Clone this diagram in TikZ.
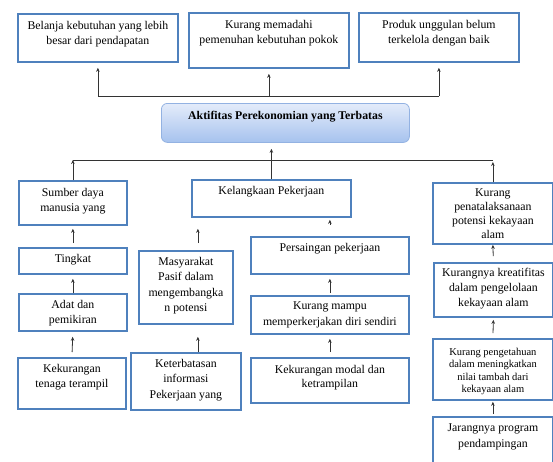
\documentclass[tikz,border=0pt]{standalone}
\usepackage{fontspec}
\setmainfont{Liberation Serif}
\usepackage{tikz}
\usetikzlibrary{calc}
\usetikzlibrary{positioning}
\usetikzlibrary{arrows.meta}

\definecolor{garisbiru}{HTML}{4F81BD}
\definecolor{panahabu}{HTML}{333333}
\definecolor{birumuda}{HTML}{E4ECFA}
\definecolor{birutua}{HTML}{A6C2EE}
\definecolor{tepibiru}{HTML}{93B2E2}

\tikzset{
  kotak/.style={draw=garisbiru, line width=1.8pt, anchor=north west, inner sep=0pt},
  isi/.style={anchor=north, align=center, inner xsep=0pt, inner ysep=8pt, font=\fontsize{11.8}{15.5}\selectfont},
  panah/.style={draw=panahabu, line width=0.8pt, -{Stealth[length=4pt,width=3.5pt]}},
  garis/.style={draw=panahabu, line width=0.8pt},
}

\begin{document}
\begin{tikzpicture}[x=1pt,y=-1pt]
      \useasboundingbox (0,0) rectangle (553,461);

      \node[kotak, minimum width=160pt, minimum height=48pt, label={[isi]north:Belanja kebutuhan yang lebih\\besar dari pendapatan}] (belanja) at (17,13) {};
      \node[kotak, minimum width=160pt, minimum height=55pt, label={[isi]north:Kurang memadahi\\pemenuhan kebutuhan pokok}] (memadahi) at (188,12) {};
      \node[kotak, minimum width=160pt, minimum height=49pt, label={[isi]north:Produk unggulan belum\\terkelola dengan baik}] (produk) at (358,12) {};

      \node[kotak, draw=tepibiru, line width=0.8pt, rounded corners=6pt, top color=birumuda, bottom color=birutua, minimum width=248pt, minimum height=39pt, label={[isi, font=\bfseries\fontsize{11.8}{15.5}\selectfont]north:Aktifitas Perekonomian yang Terbatas}] (aktifitas) at (161,103) {};

      \node[kotak, minimum width=108pt, minimum height=44pt, label={[isi]north:Sumber daya\\manusia yang}] (sumber) at (18,180) {};
      \node[kotak, minimum width=108pt, minimum height=26pt, label={[isi, inner ysep=7pt]north:Tingkat}] (tingkat) at (18,247) {};
      \node[kotak, minimum width=108pt, minimum height=37pt, label={[isi, inner ysep=7pt]north:Adat dan\\pemikiran}] (adat) at (18,293) {};
      \node[kotak, minimum width=108pt, minimum height=51pt, label={[isi, inner ysep=7pt]north:Kekurangan\\tenaga terampil}] (kekurangan) at (17,357) {};

      \node[kotak, minimum width=94pt, minimum height=73pt, label={[isi, inner ysep=7pt]north:Masyarakat\\Pasif dalam\\mengembangka\\n potensi}] (masyarakat) at (138,250) {};
      \node[kotak, minimum width=110pt, minimum height=57pt, label={[isi, inner ysep=7pt]north:Keterbatasan\\informasi\\Pekerjaan yang}] (keterbatasan) at (130,352) {};

      \node[kotak, minimum width=159pt, minimum height=37pt, label={[isi, inner ysep=7pt]north:Kelangkaan Pekerjaan}] (kelangkaan) at (191,179) {};
      \node[kotak, minimum width=158pt, minimum height=37pt, label={[isi, inner ysep=7pt]north:Persaingan pekerjaan}] (persaingan) at (250,236) {};
      \node[kotak, minimum width=158pt, minimum height=38pt, label={[isi, inner ysep=7pt]north:Kurang mampu\\memperkerjakan diri sendiri}] (mampu) at (250,295) {};
      \node[kotak, minimum width=158pt, minimum height=45pt, label={[isi, font=\fontsize{11.8}{14}\selectfont]north:Kekurangan modal dan\\ketrampilan}] (modal) at (250,357) {};

      \node[kotak, minimum width=120pt, minimum height=61pt, label={[isi, inner ysep=7pt, font=\fontsize{11.8}{13.8}\selectfont]north:Kurang\\penatalaksanaan\\potensi kekayaan\\alam}] (penatalaksanaan) at (432,182) {};
      \node[kotak, minimum width=119pt, minimum height=54pt, label={[isi, inner ysep=6pt, font=\fontsize{11.8}{15}\selectfont]north:Kurangnya kreatifitas\\dalam pengelolaan\\kekayaan alam}] (kreatifitas) at (433,262) {};
      \node[kotak, minimum width=120pt, minimum height=61pt, label={[isi, inner ysep=10pt, font=\fontsize{10.5}{12.5}\selectfont]north:Kurang pengetahuan\\dalam meningkatkan\\nilai tambah dari\\kekayaan alam}] (pengetahuan) at (432,338) {};
      \node[kotak, minimum width=120pt, minimum height=52pt, label={[isi]north:Jarangnya program\\pendampingan}] (jarangnya) at (432,416) {};

      \coordinate (cabangatas) at (0,96);
      \coordinate (cabangbawah) at (0,160);

      \draw[garis] (belanja.south |- cabangatas) -- (produk.south |- cabangatas);
      \foreach \n in {belanja,memadahi,produk}
        \draw[panah, shorten >=5pt] (\n.south |- cabangatas) -- (\n.south);

      \draw[garis] (sumber.north |- cabangbawah) -- (penatalaksanaan.north |- cabangbawah);
      \draw[panah] (sumber.north) -- (sumber.north |- cabangbawah);
      \draw[garis] (kelangkaan.north) -- (kelangkaan.north |- cabangbawah);
      \draw[panah, shorten >=2pt] (penatalaksanaan.north) -- (penatalaksanaan.north |- cabangbawah);
      \draw[panah, shorten >=6pt] (kelangkaan.north |- cabangbawah) -- (kelangkaan.north |- aktifitas.south);

      \draw[panah, shorten <=4pt, shorten >=3pt] (tingkat.north) -- (sumber.south);
      \draw[panah, shorten >=4pt] (adat.north) -- (tingkat.south);
      \draw[panah, shorten <=5pt, shorten >=5pt] (kekurangan.north) -- (adat.south);

      \coordinate (m1) at ([xshift=12pt]masyarakat.north);
      \draw[panah, shorten <=7pt, shorten >=11pt] (m1) -- (m1 |- kelangkaan.south);
      \draw[panah, shorten >=12pt] ([xshift=12pt]keterbatasan.north) -- ([xshift=12pt]masyarakat.south);

      \draw[panah, shorten <=11pt, shorten >=2pt] (persaingan.north) -- (persaingan.north |- kelangkaan.south);
      \draw[panah, shorten <=2pt, shorten >=4pt] (mampu.north) -- (persaingan.south);
      \draw[panah, shorten <=5pt, shorten >=4pt] (modal.north) -- (mampu.south);

      \draw[panah, shorten <=6pt] (kreatifitas.north) -- (penatalaksanaan.south);
      \draw[panah, shorten <=5pt, shorten >=2pt] (pengetahuan.north) -- (kreatifitas.south);
      \draw[panah, shorten <=2pt, shorten >=1pt] (jarangnya.north) -- (pengetahuan.south);
    \end{tikzpicture}
\end{document}
